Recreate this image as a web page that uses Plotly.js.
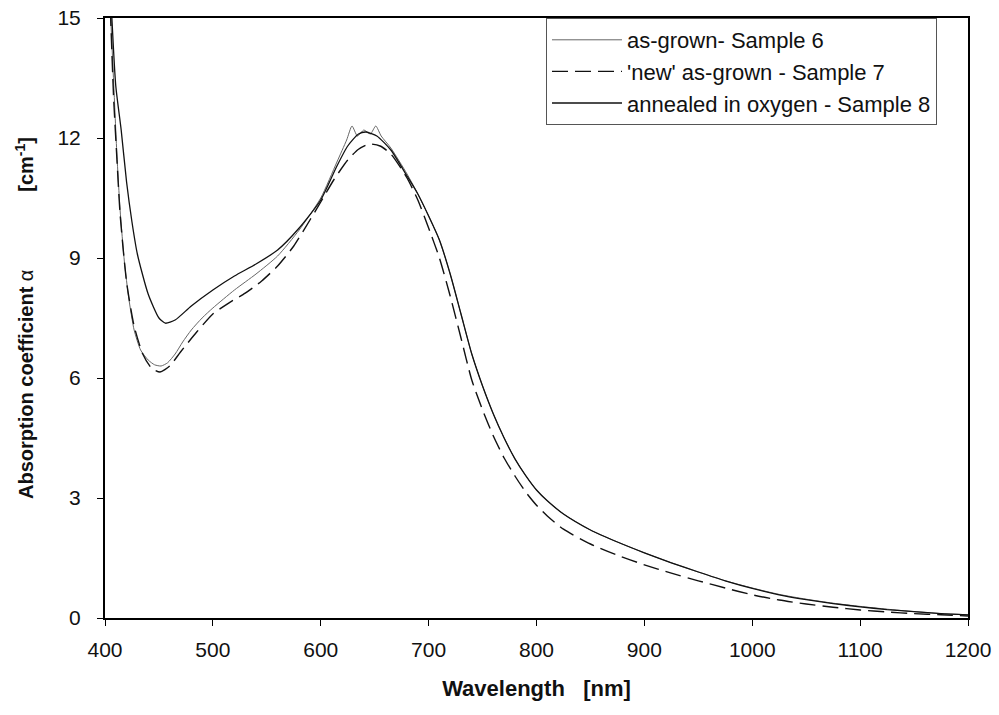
<!DOCTYPE html>
<html>
<head>
<meta charset="utf-8">
<script src="https://cdn.plot.ly/plotly-3.0.1.min.js"></script>
<style>html,body{margin:0;padding:0;background:#fff;}#chart{width:999px;height:715px;}</style>
</head>
<body>
<div id="chart"></div>
<script>
// Sample 6: as-grown
const wl6 = [405, 408, 411, 414, 418, 422, 427, 433, 440, 446, 452, 458, 465, 472, 480, 490, 500, 520, 540, 560, 580, 600, 615, 624, 629, 634, 640, 646, 651, 656, 665, 680, 690, 700, 710, 720, 730, 740, 750, 760, 770, 780, 790, 800, 810, 825, 850, 875, 900, 925, 950, 975, 1000, 1025, 1050, 1075, 1100, 1125, 1150, 1175, 1200];
const a6  = [15.2, 13.4, 11.6, 10.2, 8.9, 8.0, 7.2, 6.7, 6.45, 6.33, 6.3, 6.38, 6.6, 6.9, 7.2, 7.5, 7.75, 8.2, 8.6, 9.05, 9.7, 10.5, 11.4, 11.95, 12.3, 12.05, 12.2, 12.1, 12.3, 12.05, 11.75, 11.1, 10.6, 10.05, 9.45, 8.6, 7.6, 6.6, 5.8, 5.1, 4.5, 3.98, 3.56, 3.2, 2.93, 2.6, 2.2, 1.9, 1.63, 1.38, 1.15, 0.93, 0.75, 0.59, 0.47, 0.37, 0.29, 0.22, 0.16, 0.11, 0.08];
// Sample 7: 'new' as-grown
const wl7 = [405, 408, 411, 414, 420, 427, 435, 443, 451, 460, 470, 485, 500, 515, 530, 545, 560, 575, 590, 600, 612, 625, 635, 645, 655, 665, 680, 690, 700, 710, 720, 730, 740, 750, 760, 770, 780, 790, 800, 810, 825, 850, 875, 900, 925, 950, 975, 1000, 1025, 1050, 1075, 1100, 1125, 1150, 1175, 1200];
const a7  = [15.2, 13.0, 11.5, 10.1, 8.4, 7.3, 6.6, 6.25, 6.15, 6.3, 6.65, 7.15, 7.6, 7.88, 8.12, 8.42, 8.8, 9.3, 9.95, 10.4, 10.95, 11.45, 11.72, 11.85, 11.8, 11.6, 11.0, 10.45, 9.75, 9.0, 8.05, 7.0, 5.95, 5.2, 4.55, 4.0, 3.55, 3.15, 2.82, 2.55, 2.22, 1.85, 1.57, 1.33, 1.12, 0.93, 0.75, 0.58, 0.45, 0.35, 0.27, 0.2, 0.15, 0.11, 0.08, 0.05];
// Sample 8: annealed in oxygen
const wl8 = [406, 410, 415, 420, 425, 430, 440, 450, 456, 465, 480, 500, 520, 540, 560, 580, 600, 615, 625, 635, 642, 652, 665, 680, 690, 700, 710, 720, 730, 740, 750, 760, 770, 780, 790, 800, 810, 825, 850, 875, 900, 925, 950, 975, 1000, 1025, 1050, 1075, 1100, 1125, 1150, 1175, 1200];
const a8  = [15.2, 13.3, 12.2, 10.9, 9.9, 9.1, 8.1, 7.5, 7.37, 7.45, 7.8, 8.2, 8.55, 8.85, 9.2, 9.75, 10.45, 11.3, 11.8, 12.1, 12.15, 12.05, 11.7, 11.05, 10.6, 10.05, 9.45, 8.6, 7.6, 6.6, 5.8, 5.1, 4.5, 3.98, 3.56, 3.2, 2.93, 2.6, 2.2, 1.9, 1.63, 1.38, 1.15, 0.93, 0.74, 0.58, 0.46, 0.36, 0.28, 0.21, 0.16, 0.11, 0.08];

const names = ["as-grown- Sample 6", "'new' as-grown - Sample 7", "annealed in oxygen - Sample 8"];
const xTicks = [400, 500, 600, 700, 800, 900, 1000, 1100, 1200];
const yTicks = [0, 3, 6, 9, 12, 15];

const traces = [
  {x: wl6, y: a6, name: names[0], mode: 'lines', line: {color: '#666', width: 1, shape: 'spline', smoothing: 0.6}},
  {x: wl7, y: a7, name: names[1], mode: 'lines', line: {color: '#111', width: 1.4, dash: '16px,7px', shape: 'spline', smoothing: 0.6}},
  {x: wl8, y: a8, name: names[2], mode: 'lines', line: {color: '#111', width: 1.3, shape: 'spline', smoothing: 0.6}}
];

const fam = 'Liberation Sans, Arial, sans-serif';
const axisFont = {family: fam, size: 21, color: '#111'};
const sp = n => '&nbsp;'.repeat(n);
const layout = {
  width: 999, height: 715,
  margin: {l: 105, r: 31, t: 18, b: 97},
  paper_bgcolor: '#fff', plot_bgcolor: '#fff',
  showlegend: true,
  legend: {
    x: 0.511, y: 1, xanchor: 'left', yanchor: 'top',
    bgcolor: '#fff', bordercolor: '#555', borderwidth: 1,
    font: {family: fam, size: 22, color: '#111'},
    itemwidth: 70, traceorder: 'normal'
  },
  xaxis: {
    range: [400, 1200], tickvals: xTicks, ticktext: xTicks.map(String),
    showgrid: false, zeroline: false, showline: true, linecolor: '#000', linewidth: 2, mirror: true,
    ticks: 'outside', ticklen: 6, tickcolor: '#000', tickfont: axisFont, ticklabelstandoff: 6,
    title: {text: '<b>Wavelength' + sp(3) + '[nm]</b>', font: {family: fam, size: 22, color: '#111'}, standoff: 20}
  },
  yaxis: {
    range: [0, 15], tickvals: yTicks, ticktext: yTicks.map(String),
    showgrid: false, zeroline: false, showline: true, linecolor: '#000', linewidth: 2, mirror: true,
    ticks: 'outside', ticklen: 6, tickcolor: '#000', tickfont: axisFont, ticklabelstandoff: 12,
    title: {text: '<b>Absorption coefficient </b>α<b>' + sp(14) + '[cm<sup>-1</sup>]</b>', font: {family: fam, size: 20, color: '#111'}, standoff: 18}
  }
};

Plotly.newPlot('chart', traces, layout, {displayModeBar: false, staticPlot: true});
</script>
</body>
</html>
